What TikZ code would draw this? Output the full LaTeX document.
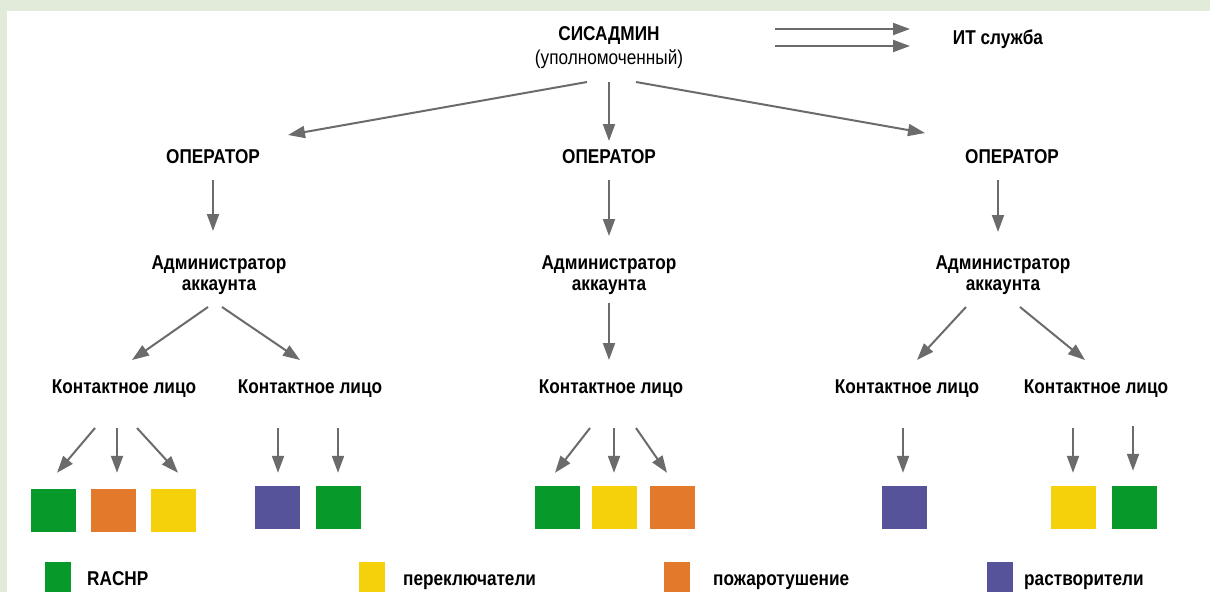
\documentclass[tikz,border=0pt]{standalone}
\usepackage{fontspec}
\setmainfont{Liberation Sans}[FakeStretch = 0.86]
\usetikzlibrary{positioning}
\usetikzlibrary{arrows.meta}

\definecolor{boxgreen}{HTML}{079A2B}
\definecolor{boxorange}{HTML}{E3792A}
\definecolor{boxyellow}{HTML}{F4D10A}
\definecolor{boxpurple}{HTML}{56539B}
\definecolor{arrowgray}{HTML}{6B6B6B}
\definecolor{bandgreen}{HTML}{E2EBD9}

\newcommand{\lblfont}{\fontsize{20}{21}\selectfont\bfseries}
\newcommand{\notefont}{\fontsize{20}{21}\selectfont}

\begin{document}
\begin{tikzpicture}[x = 1pt, y = -1pt,
		arr/.style = {draw = arrowgray, line width = 2pt, -{Triangle[length = 17pt, width = 12pt]}},
		lbl/.style = {anchor = base, inner sep = 0pt, font = \lblfont, align = center},
		box/.style = {minimum width = 45pt, minimum height = 43pt, inner sep = 0pt},
		legbox/.style = {minimum width = 26pt, minimum height = 30pt, inner sep = 0pt, anchor = north west}]
					\useasboundingbox (0, 0) rectangle (1210, 592);
					\fill [bandgreen] (0, 0) rectangle (1210, 11);
					\fill [bandgreen] (0, 0) rectangle (7, 592);
					% top
					\node [lbl] (sys) at (609, 40) {СИСАДМИН};
					\node [lbl, font = \notefont] (sysnote) at (609, 64) {(уполномоченный)};
					\node [lbl] (it) at (998, 44) {ИТ служба};
					\draw [arr] ([shift = {(166, -11)}]sys.base) -- ([shift = {(-88, -15)}]it.base);
					\draw [arr] ([shift = {(166, 6)}]sys.base) -- ([shift = {(-88, 2)}]it.base);
					% operators
					\node [lbl] (op1) at (213, 163) {ОПЕРАТОР};
					\node [lbl] (op2) at (609, 163) {ОПЕРАТОР};
					\node [lbl] (op3) at (1012, 163) {ОПЕРАТОР};
					\draw [arr] ([shift = {(-22, 42)}]sys.base) -- ([shift = {(75, -28)}]op1.base);
					\draw [arr] ([shift = {(0, 42)}]sys.base) -- ([shift = {(0, -22)}]op2.base);
					\draw [arr] ([shift = {(27, 42)}]sys.base) -- ([shift = {(-87, -30)}]op3.base);
					% account admins
					\node [lbl] (adm1) at (219, 290) {Администратор\\аккаунта};
					\node [lbl] (adm2) at (609, 290) {Администратор\\аккаунта};
					\node [lbl] (adm3) at (1003, 290) {Администратор\\аккаунта};
					\draw [arr] ([shift = {(0, 17)}]op1.base) -- ([shift = {(-6, -59)}]adm1.base);
					\draw [arr] ([shift = {(0, 17)}]op2.base) -- ([shift = {(0, -54)}]adm2.base);
					\draw [arr] ([shift = {(-14, 17)}]op3.base) -- ([shift = {(-5, -58)}]adm3.base);
					% contacts
					\node [lbl] (c1) at (124, 393) {Контактное лицо};
					\node [lbl] (c2) at (310, 393) {Контактное лицо};
					\node [lbl] (c3) at (611, 393) {Контактное лицо};
					\node [lbl] (c4) at (907, 393) {Контактное лицо};
					\node [lbl] (c5) at (1096, 393) {Контактное лицо};
					\draw [arr] ([shift = {(-11, 17)}]adm1.base) -- ([shift = {(8, -33)}]c1.base);
					\draw [arr] ([shift = {(3, 17)}]adm1.base) -- ([shift = {(-10, -33)}]c2.base);
					\draw [arr] ([shift = {(0, 13)}]adm2.base) -- ([shift = {(-2, -33)}]c3.base);
					\draw [arr] ([shift = {(-37, 17)}]adm3.base) -- ([shift = {(10, -33)}]c4.base);
					\draw [arr] ([shift = {(17, 17)}]adm3.base) -- ([shift = {(-11, -33)}]c5.base);
					% equipment boxes
					\node [box, fill = boxgreen] (g1) at (53.5, 510.5) {};
					\node [box, fill = boxorange] (g2) at (113.5, 510.5) {};
					\node [box, fill = boxyellow] (g3) at (173.5, 510.5) {};
					\node [box, fill = boxpurple] (g4) at (277.5, 507.5) {};
					\node [box, fill = boxgreen] (g5) at (338.5, 507.5) {};
					\node [box, fill = boxgreen] (g6) at (557.5, 507.5) {};
					\node [box, fill = boxyellow] (g7) at (614.5, 507.5) {};
					\node [box, fill = boxorange] (g8) at (672.5, 507.5) {};
					\node [box, fill = boxpurple] (g9) at (904, 507.5) {};
					\node [box, fill = boxyellow] (g10) at (1073, 507.5) {};
					\node [box, fill = boxgreen] (g11) at (1134.5, 507.5) {};
					\draw [arr] ([shift = {(-29, 35)}]c1.base) -- ([shift = {(3.5, -16)}]g1.north);
					\draw [arr] ([shift = {(-7, 35)}]c1.base) -- ([shift = {(3.5, -16)}]g2.north);
					\draw [arr] ([shift = {(13, 35)}]c1.base) -- ([shift = {(4.5, -16)}]g3.north);
					\draw [arr] ([shift = {(-32, 35)}]c2.base) -- ([shift = {(0.5, -13)}]g4.north);
					\draw [arr] ([shift = {(28, 35)}]c2.base) -- ([shift = {(-0.5, -13)}]g5.north);
					\draw [arr] ([shift = {(-21, 35)}]c3.base) -- ([shift = {(-2.5, -13)}]g6.north);
					\draw [arr] ([shift = {(3, 35)}]c3.base) -- ([shift = {(-0.5, -13)}]g7.north);
					\draw [arr] ([shift = {(25, 35)}]c3.base) -- ([shift = {(-5.5, -13)}]g8.north);
					\draw [arr] ([shift = {(-4, 35)}]c4.base) -- ([shift = {(-1, -13)}]g9.north);
					\draw [arr] ([shift = {(-23, 35)}]c5.base) -- ([shift = {(0, -13)}]g10.north);
					\draw [arr] ([shift = {(37, 33)}]c5.base) -- ([shift = {(-1.5, -15)}]g11.north);
					% legend
					\node [legbox, fill = boxgreen] (lg1) at (45, 562) {};
					\node [legbox, fill = boxyellow] (lg2) at (359, 562) {};
					\node [legbox, fill = boxorange] (lg3) at (664, 562) {};
					\node [legbox, fill = boxpurple] (lg4) at (987, 562) {};
					\node at (87, 585) [anchor = base west, inner sep = 0pt, font = \lblfont] (lt1) {RACHP};
					\node at (403, 585) [anchor = base west, inner sep = 0pt, font = \lblfont] (lt2) {переключатели};
					\node at (713, 585) [anchor = base west, inner sep = 0pt, font = \lblfont] (lt3) {пожаротушение};
					\node at (1024, 585) [anchor = base west, inner sep = 0pt, font = \lblfont] (lt4) {растворители};
				\end{tikzpicture}
\end{document}
